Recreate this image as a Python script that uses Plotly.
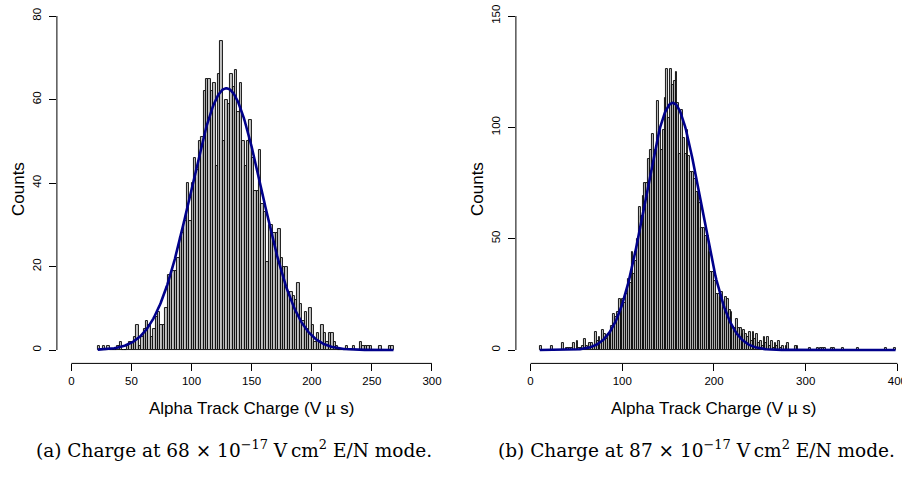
import numpy as np
import plotly.graph_objects as go

# ---------------- data ----------------
bin_width = 2
left_start = 22
left_counts = [1, 0, 1, 0, 1, 0, 0, 0, 1, 2, 0, 0, 1, 2, 2, 3, 6, 1, 3, 5,
               7, 6, 3, 5, 8, 9, 6, 6, 10, 18, 18, 19, 19, 22, 27, 28, 31, 40, 31, 40,
               46, 43, 50, 51, 62, 65, 65, 62, 64, 44, 66, 74, 50, 60, 59, 66, 63, 67, 57, 64,
               50, 44, 50, 55, 46, 38, 38, 48, 35, 33, 21, 30, 30, 28, 28, 29, 22, 20, 20, 14,
               14, 13, 12, 16, 11, 7, 9, 5, 10, 6, 2, 4, 2, 6, 4, 2, 4, 4, 2, 1,
               0, 0, 0, 1, 0, 0, 1, 0, 0, 2, 1, 1, 1, 1, 0, 0, 0, 1, 0, 0,
               0, 1, 1]
right_start = 10
right_counts = [2, 0, 0, 0, 0, 0, 2, 0, 0, 0, 0, 0, 3, 0, 1, 1, 1, 1, 3, 0,
                4, 1, 1, 2, 5, 2, 1, 3, 3, 2, 8, 4, 6, 3, 9, 7, 5, 7, 7, 11,
                16, 15, 17, 23, 17, 23, 21, 25, 32, 30, 44, 34, 40, 50, 64, 60, 69, 75, 75, 86,
                90, 97, 86, 90, 112, 99, 90, 99, 113, 126, 104, 126, 119, 121, 125, 111, 88, 108, 95, 88,
                99, 87, 80, 80, 77, 71, 71, 66, 55, 55, 51, 51, 44, 35, 35, 31, 25, 25, 24, 26,
                19, 24, 23, 18, 17, 10, 10, 14, 10, 10, 7, 9, 7, 6, 8, 4, 8, 5, 7, 3,
                4, 2, 6, 3, 6, 2, 4, 1, 3, 2, 4, 1, 2, 0, 2, 3, 0, 0, 0, 2,
                2, 0, 0, 0, 0, 0, 0, 1, 0, 0, 0, 1, 0, 1, 1, 1, 0, 0, 0, 1,
                1, 0, 0, 0, 0, 1, 0, 0, 0, 0, 0, 0, 0, 1, 0, 0, 0, 0, 0, 0,
                0, 0, 0, 0, 0, 0, 0, 0, 1, 0, 0, 0, 0, 1]

# Gaussian fit parameters (peak height, mean, sd)
left_fit = dict(peak=62.7, mean=129.0, sd=29.5)
right_fit = dict(peak=111.0, mean=155.0, sd=30.0)

left_xticks = [0, 50, 100, 150, 200, 250, 300]
left_yticks = [0, 20, 40, 60, 80]
right_xticks = [0, 100, 200, 300, 400]
right_yticks = [0, 50, 100, 150]

x_title = "Alpha Track Charge (V \u00b5 s)"
y_title = "Counts"
cap_a = "(a) Charge at 68 \u00d7 10<sup>\u221217</sup> V\u2009cm<sup>2</sup> E/N mode."
cap_b = "(b) Charge at 87 \u00d7 10<sup>\u221217</sup> V\u2009cm<sup>2</sup> E/N mode."

# ---------------- layout helpers ----------------
# window pixels -> paper coords (page body margin removed in post_script)
W, H = 902, 477
def fx(p):
    return p / W
def fy(p):
    return 1 - p / H

fig = go.Figure()

def add_panel(counts, start, fit, xa, ya):
    edges = start + bin_width * np.arange(len(counts))
    fig.add_trace(go.Bar(
        x=edges, y=counts, width=bin_width, offset=0,
        marker=dict(color="#c4c4c4", line=dict(color="black", width=0.9)),
        xaxis=xa, yaxis=ya, showlegend=False, hoverinfo="skip"))
    xs = np.linspace(edges[0], edges[-1] + bin_width, 400)
    ys = fit["peak"] * np.exp(-0.5 * ((xs - fit["mean"]) / fit["sd"]) ** 2)
    fig.add_trace(go.Scatter(
        x=xs, y=ys, mode="lines", line=dict(color="#00008b", width=2.6),
        xaxis=xa, yaxis=ya, showlegend=False, hoverinfo="skip"))

add_panel(left_counts, left_start, left_fit, "x", "y")
add_panel(right_counts, right_start, right_fit, "x2", "y2")

tickfont = dict(family="Liberation Sans, Arial, sans-serif", size=11.5, color="black")
common_x = dict(showgrid=False, zeroline=False, showline=False, ticks="outside",
                ticklen=7, tickwidth=1, tickcolor="black", tickfont=tickfont,
                automargin=False, ticklabelstandoff=0, ticklabeloverflow="allow")
common_y = dict(showgrid=False, zeroline=False, showline=False, ticks="outside",
                ticklen=7, tickwidth=1, tickcolor="black", tickfont=tickfont, tickangle=-90,
                automargin=False, ticklabelstandoff=3, ticklabeloverflow="allow")

# plot area: bottom at 363.4px (R's 4% padding below 0), top a little above the top tick
bot_px, top_px = 363.4, 4.0
left_scale = (350 - 16) / 80.0     # px per count
right_scale = (350 - 16) / 150.0
ydom = [fy(bot_px), fy(top_px)]
fig.update_layout(
    width=W, height=H, margin=dict(l=0, r=0, t=0, b=0, autoexpand=False),
    paper_bgcolor="white", plot_bgcolor="white", bargap=0,
    xaxis=dict(domain=[fx(56.9), fx(446.4)], range=[-12, 312], tickvals=left_xticks,
               anchor="y", **common_x),
    yaxis=dict(domain=ydom, range=[-(bot_px - 350) / left_scale, 80 + (16 - top_px) / left_scale],
               tickvals=left_yticks, anchor="x", **common_y),
    xaxis2=dict(domain=[fx(515.9), 1.0], range=[-16, 405.0],
                tickvals=right_xticks, anchor="y2", **common_x),
    yaxis2=dict(domain=ydom, range=[-(bot_px - 350) / right_scale, 150 + (16 - top_px) / right_scale],
                tickvals=right_yticks, anchor="x2", **common_y),
)

# detached R-style axis lines
axis_line = dict(color="black", width=1)
fig.add_shape(type="line", xref="x", yref="y domain", x0=0, x1=300, y0=0, y1=0, line=axis_line)
fig.add_shape(type="line", xref="x domain", yref="y", x0=0, x1=0, y0=0, y1=80, line=axis_line)
fig.add_shape(type="line", xref="x2", yref="y2 domain", x0=0, x1=400, y0=0, y1=0, line=axis_line)
fig.add_shape(type="line", xref="x2 domain", yref="y2", x0=0, x1=0, y0=0, y1=150, line=axis_line)

lab_font = dict(family="Liberation Sans, Arial, sans-serif", size=17, color="black")
cap_font = dict(family="DejaVu Serif, serif", size=18.5, color="black")
ann = [
    dict(text=x_title, x=fx(251.6), y=fy(408), font=lab_font),
    dict(text=x_title, x=fx(713.3), y=fy(408), font=lab_font),
    dict(text=y_title, x=fx(18), y=fy(189), font=lab_font, textangle=-90),
    dict(text=y_title, x=fx(477), y=fy(189), font=lab_font, textangle=-90),
    dict(text=cap_a, x=fx(234), y=fy(449), font=cap_font),
    dict(text=cap_b, x=fx(696), y=fy(449), font=cap_font),
]
for a in ann:
    fig.add_annotation(xref="paper", yref="paper", showarrow=False,
                       xanchor="center", yanchor="middle", **a)

fig.write_html("out.html", config={"displayModeBar": False},
               post_script="document.body.style.margin='0';document.body.style.overflow='hidden';")
